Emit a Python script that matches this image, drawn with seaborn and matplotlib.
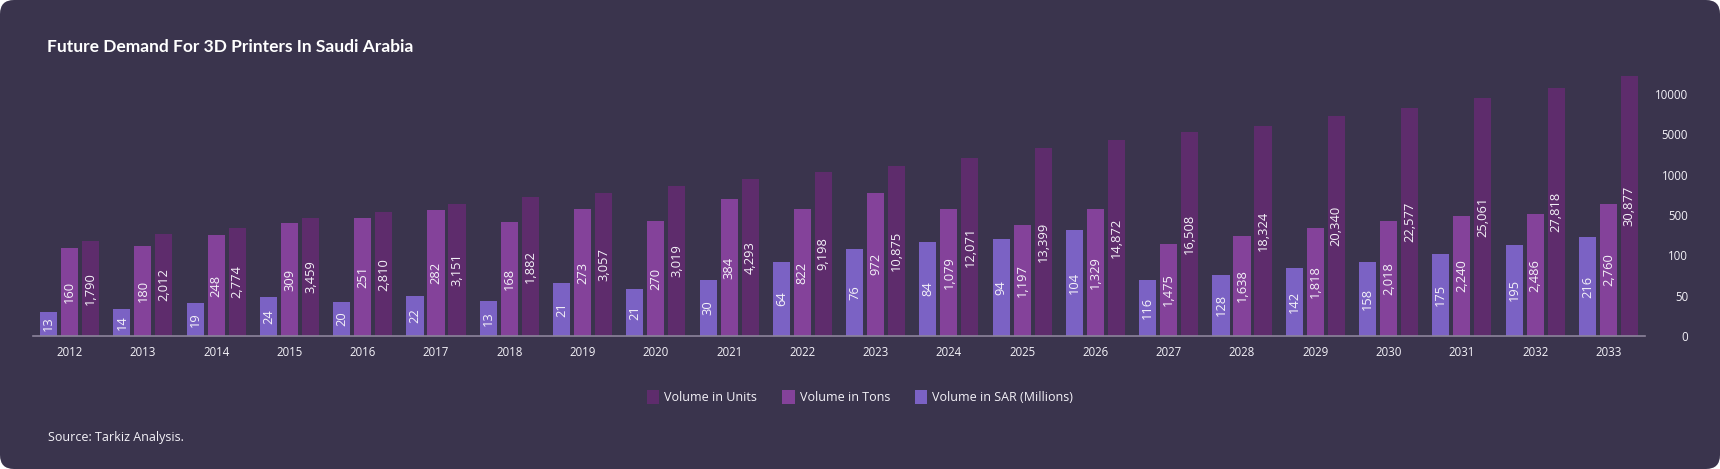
import numpy as np
import pandas as pd
import matplotlib
matplotlib.use("Agg")
import matplotlib.pyplot as plt
from matplotlib.patches import FancyBboxPatch, Patch
import seaborn as sns

# ---------------- data ----------------
years = [str(y) for y in range(2012, 2034)]
series_names = ["Volume in SAR (Millions)", "Volume in Tons", "Volume in Units"]

# printed data labels
sar_labels = [13, 14, 19, 24, 20, 22, 13, 21, 21, 30, 64, 76, 84, 94, 104, 116, 128, 142, 158, 175, 195, 216]
tons_labels = [160, 180, 248, 309, 251, 282, 168, 273, 270, 384, 822, 972, 1079, 1197, 1329, 1475, 1638,
               1818, 2018, 2240, 2486, 2760]
units_labels = [1790, 2012, 2774, 3459, 2810, 3151, 1882, 3057, 3019, 4293, 9198, 10875, 12071, 13399,
                14872, 16508, 18324, 20340, 22577, 25061, 27818, 30877]

# bar heights as read against the chart's value axis
sar_height = [30, 33, 41, 48, 42, 50, 43, 66, 58, 70, 92, 164, 232, 264, 352, 70, 76, 84, 92, 112, 204, 280]
tons_height = [172, 192, 300, 420, 472, 560, 432, 575, 440, 700, 575, 775, 575, 400, 575, 212, 292, 372,
               440, 492, 510, 635]
units_height = [244, 312, 372, 472, 535, 635, 725, 770, 860, 945, 1280, 1880, 2640, 3640, 4440, 5300, 6050,
                7250, 8250, 9500, 10750, 12250]

axis_ticks = [0, 50, 100, 500, 1000, 5000, 10000]

# ---------------- style ----------------
BG = "#3a344d"
C_SAR = "#7b62c4"
C_TONS = "#84429a"
C_UNITS = "#5e2c6c"
AXIS = "#8c849c"
TXT = "#f4f2f8"

sns.set_theme(style="white")
plt.rcParams["font.family"] = ["Open Sans", "DejaVu Sans"]

W, H, DPI = 1720, 469, 100
fig = plt.figure(figsize=(W / DPI, H / DPI), dpi=DPI)
fig.patch.set_facecolor("white")
bg = FancyBboxPatch((0, 0), W / DPI, H / DPI, boxstyle="round,pad=0,rounding_size=0.14",
                    transform=fig.dpi_scale_trans, facecolor=BG, edgecolor="none", zorder=-10)
fig.patches.append(bg)

# axes placement (pixels)
ax_left, ax_right, ax_bottom, unit_px = 33, 1645, 336, 40.33
top_pos = 6.6
ax = fig.add_axes([ax_left / W, 1 - ax_bottom / H, (ax_right - ax_left) / W, top_pos * unit_px / H])
ax.set_facecolor("none")

# ---------------- scale: equally spaced ticks ----------------
tick_pos = np.arange(len(axis_ticks), dtype=float)
ext_vals = np.array(axis_ticks + [10000 + 5000 * 4], dtype=float)
ext_pos = np.append(tick_pos, tick_pos[-1] + 4)


def fwd(v):
    v = np.asarray(v, dtype=float)
    return np.interp(v, ext_vals, ext_pos)


def inv(p):
    p = np.asarray(p, dtype=float)
    return np.interp(p, ext_pos, ext_vals)


df = pd.DataFrame({
    "Year": years * 3,
    "Series": [series_names[0]] * len(years) + [series_names[1]] * len(years) + [series_names[2]] * len(years),
    "Value": sar_height + tons_height + units_height,
})

sns.barplot(data=df, x="Year", y="Value", hue="Series", hue_order=series_names,
            palette=[C_SAR, C_TONS, C_UNITS], saturation=1, width=0.86, gap=0.19,
            legend=False, ax=ax, edgecolor="none", linewidth=0)

ax.set_yscale("function", functions=(fwd, inv))
ax.set_ylim(0, float(inv(top_pos)))
ax.set_xlim(-0.5, len(years) - 0.5)

# ---------------- labels inside bars ----------------
all_labels = [sar_labels, tons_labels, units_labels]
for cont, labs in zip(ax.containers, all_labels):
    for rect, lab in zip(cont.patches, labs):
        xc = rect.get_x() + rect.get_width() / 2
        h = rect.get_height()
        yc = float(inv(fwd(h) / 2))
        ax.text(xc, yc, f"{lab:,}", rotation=90, ha="center", va="center",
                fontsize=9.3, color=TXT)

# ---------------- axes styling ----------------
for s in ["top", "left", "right"]:
    ax.spines[s].set_visible(False)
ax.spines["bottom"].set_color(AXIS)
ax.spines["bottom"].set_linewidth(1.2)
ax.set_xlabel("")
ax.set_ylabel("")
ax.tick_params(axis="x", length=0, pad=7, labelsize=8.3, labelcolor=TXT)
ax.yaxis.tick_right()
ax.set_yticks(axis_ticks)
ax.set_yticklabels([str(t) for t in axis_ticks])
ax.yaxis.set_minor_locator(matplotlib.ticker.NullLocator())
ax.tick_params(axis="y", length=0, pad=31, labelsize=8.3, labelcolor=TXT)
for lbl in ax.get_yticklabels():
    lbl.set_horizontalalignment("right")
ax.grid(False)

# ---------------- title / source / legend ----------------
title = fig.text(47 / W, 1 - 47 / H, "Future Demand For 3D Printers In Saudi Arabia",
                 ha="left", va="center", fontsize=13, fontweight="bold", color="white",
                 family=["Lato", "Open Sans", "DejaVu Sans"])
renderer = fig.canvas.get_renderer()
for _ in range(3):
    wpx = title.get_window_extent(renderer).width
    title.set_fontsize(title.get_fontsize() * 366 / wpx)

fig.text(48 / W, 1 - 437 / H, "Source: Tarkiz Analysis.", ha="left", va="center",
         fontsize=9, color=TXT)

handles = [Patch(facecolor=C_UNITS, edgecolor="none"),
           Patch(facecolor=C_TONS, edgecolor="none"),
           Patch(facecolor=C_SAR, edgecolor="none")]
labels = ["Volume in Units", "Volume in Tons", "Volume in SAR (Millions)"]
fig.legend(handles, labels, loc="center", bbox_to_anchor=(0.5, 1 - 397 / H), ncol=3,
           frameon=False, fontsize=9, labelcolor=TXT, handlelength=1.0, handleheight=1.3,
           handletextpad=0.4, columnspacing=2.0)

fig.savefig("out.png", dpi=DPI, facecolor=fig.get_facecolor())
